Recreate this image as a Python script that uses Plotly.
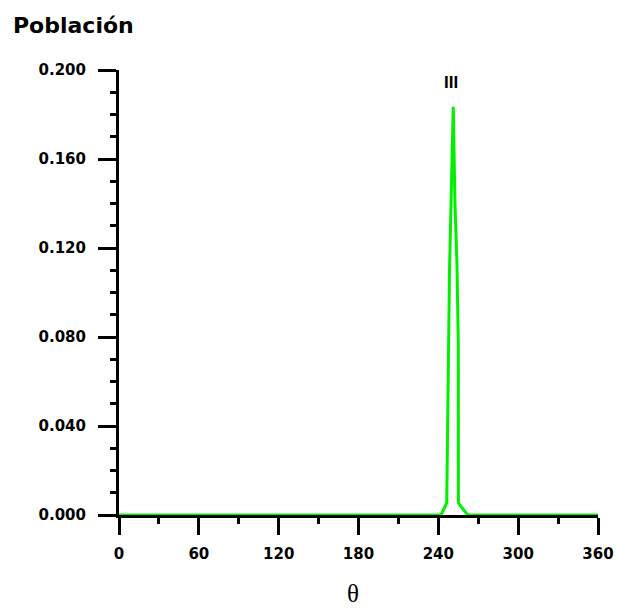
import plotly.graph_objects as go

# Data
theta = [0, 242, 246.3, 247.5, 248.4, 251.2, 252.5, 254.0, 254.4, 255.0, 255.1, 262, 360]
poblacion = [0, 0, 0.0054, 0.080, 0.110, 0.1835, 0.140, 0.113, 0.093, 0.077, 0.0054, 0, 0]

x_ticks = [0, 60, 120, 180, 240, 300, 360]
y_ticks = [0.0, 0.04, 0.08, 0.12, 0.16, 0.20]

peak_labels = ["III"]
peak_label_x = [249.3]
peak_label_y = [0.1943]

x_title = "θ"
y_title = "Población"

BOLD = dict(family="DejaVu Sans", color="black", weight="bold")

fig = go.Figure()
fig.add_trace(go.Scatter(
    x=theta, y=poblacion, mode="lines",
    line=dict(color="#00f000", width=3),
    cliponaxis=False, hoverinfo="skip",
))

for t, lx, ly in zip(peak_labels, peak_label_x, peak_label_y):
    fig.add_annotation(x=lx, y=ly, text=t, showarrow=False,
                       font=dict(family="Liberation Sans", size=17, color="black", weight="bold"),
                       xanchor="center", yanchor="middle")

# x-axis title (theta) placed below the tick labels
fig.add_annotation(xref="paper", yref="paper", x=(353 - 119) / 479, y=-(593 - 515) / 445,
                   text=x_title, showarrow=False, xanchor="center", yanchor="middle",
                   borderpad=0,
                   font=dict(family="Liberation Serif", size=25, color="black"))

fig.update_layout(
    width=618, height=609,
    margin=dict(l=119, r=20, t=70, b=94, autoexpand=False),
    plot_bgcolor="white", paper_bgcolor="white",
    showlegend=False,
    title=dict(text=y_title, x=13/618, xanchor="left", xref="container",
               y=1 - 25/609, yref="container", yanchor="middle",
               font=dict(size=22, **BOLD)),
)

fig.update_xaxes(
    range=[0, 360], tickvals=x_ticks, ticktext=[str(v) for v in x_ticks],
    ticks="outside", ticklen=17, tickwidth=3, tickcolor="black",
    showline=True, linewidth=3, linecolor="black",
    showgrid=False, zeroline=False, automargin=False,
    tickfont=dict(size=15, **BOLD),
    ticklabelstandoff=6,
    minor=dict(ticks="outside", ticklen=6, tickwidth=3, tickcolor="black",
               dtick=30, tick0=0, showgrid=False),
)

fig.update_yaxes(
    range=[0, 0.2], tickvals=y_ticks, tickformat=".3f",
    ticks="outside", ticklen=18, tickwidth=3, tickcolor="black",
    showline=True, linewidth=3, linecolor="black",
    showgrid=False, zeroline=False, automargin=False,
    tickfont=dict(size=15, **BOLD),
    ticklabelstandoff=9,
    minor=dict(ticks="outside", ticklen=6, tickwidth=3, tickcolor="black",
               dtick=0.01, tick0=0, showgrid=False),
)

fig.write_html("out.html")
